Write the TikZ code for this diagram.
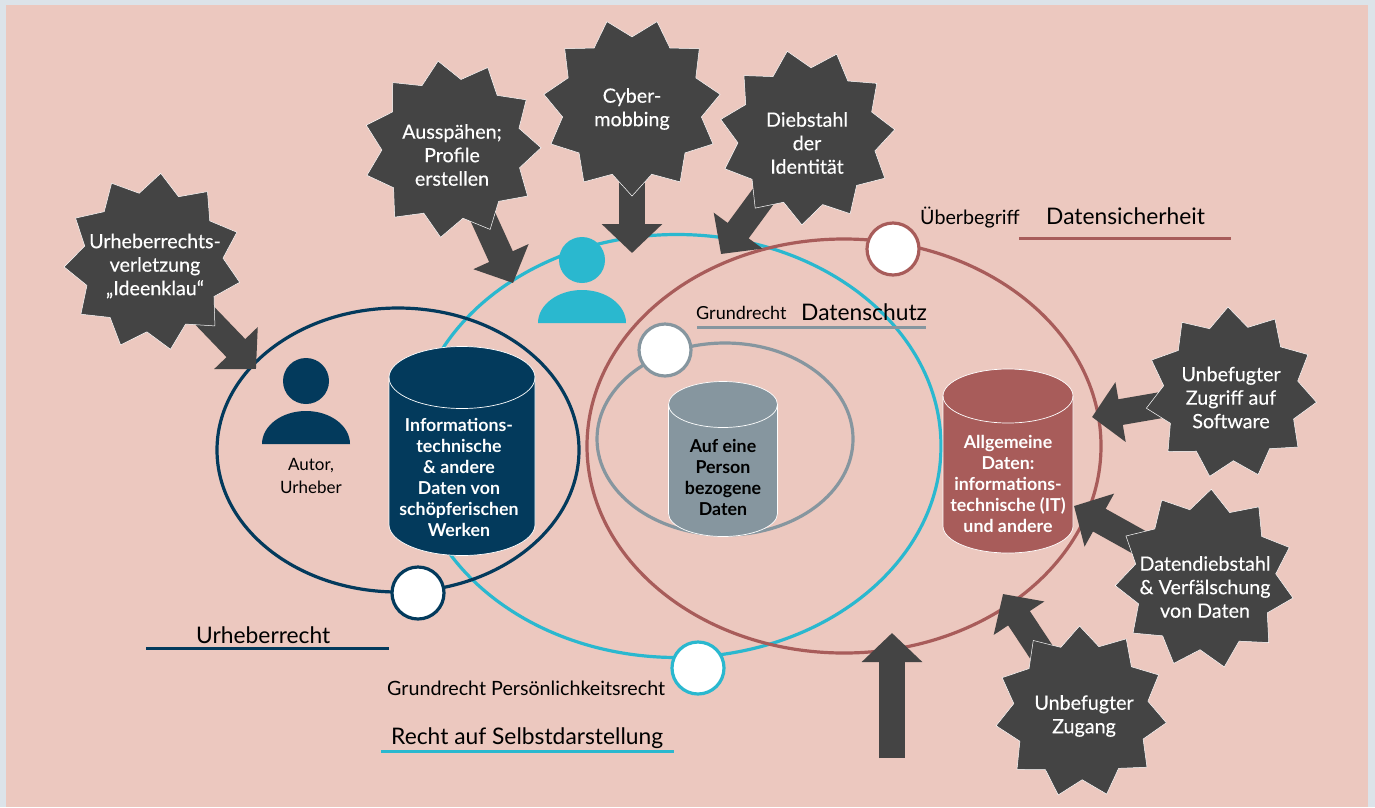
\documentclass[tikz,border=0pt]{standalone}
\usepackage{fontspec}
\setmainfont{Lato}
\newfontfamily\mediumfont{Lato}[FakeBold=0.3]
\usetikzlibrary{shapes.geometric, positioning, arrows.meta}
\definecolor{grund}{HTML}{ECC8BF}
\definecolor{rand}{HTML}{DCE3E9}
\definecolor{navy}{HTML}{033A5C}
\definecolor{tuerkis}{HTML}{2AB8CF}
\definecolor{rot}{HTML}{A85C5A}
\definecolor{grau}{HTML}{86969F}
\definecolor{dunkel}{HTML}{444444}
\pgfdeclarelayer{hinten}
\pgfdeclarelayer{pfeile}
\pgfsetlayers{hinten,pfeile,main}
\tikzset{
x=1pt, y=-1pt, % reference pixels as coordinates
burst/.style={star, star points=11, star point ratio=1.27, minimum size=178pt, inner sep=0pt, fill=dunkel, draw=white, line width=.5pt}, % the dark stars
bursttext/.style={text=white, align=center, font=\mediumfont\fontsize{19.7}{23.5}\selectfont},
fatarrow/.style={draw=dunkel, line width=26pt, -{Triangle[length=29pt, width=59pt]}}, % the thick arrows
ring/.style={ellipse, draw=#1, line width=3.2pt, inner sep=0pt},
knob/.style={circle, draw=#1, line width=3.2pt, fill=white, minimum size=52pt, inner sep=0pt},
tanktext/.style={text=white, align=center, font=\fontsize{17.8}{21}\selectfont\bfseries},
small/.style={font=\fontsize{18}{21}\selectfont, text=black, anchor=base west, inner sep=0pt},
middle/.style={font=\fontsize{19.7}{21}\selectfont, text=black, anchor=base west, inner sep=0pt},
big/.style={font=\fontsize{22.8}{24}\selectfont, text=black, anchor=base west, inner sep=0pt},
person/.pic={
    \fill (0,-63) circle[radius=23pt];
    \fill (-44,0) arc[start angle=180, end angle=0, x radius=44pt, y radius=33pt] -- cycle;
},
pics/tank/.style n args={4}{code={ % half width, half height, curve radius, colour
    \filldraw[fill=#4, draw=white, line width=.7pt] (-#1,-#2+#3) arc[start angle=180, end angle=0, x radius=#1 pt, y radius=#3 pt]
        -- (#1,#2-#3) arc[start angle=0, end angle=-180, x radius=#1 pt, y radius=#3 pt] -- cycle;
    \draw[white, line width=.7pt] (-#1,-#2+#3) arc[start angle=180, end angle=360, x radius=#1 pt, y radius=#3 pt];
}},
}
\begin{document}
\begin{tikzpicture}
    \useasboundingbox (0,0) rectangle (1375,807);
    \begin{pgfonlayer}{hinten}
        \fill[rand] (0,0) rectangle (1375,807);
        \fill[grund] (6,5) rectangle (1368,807);
        \node[ring=tuerkis, minimum width=528pt, minimum height=423pt] (selbst) at (677,446) {};
        \node[ring=navy, minimum width=362pt, minimum height=284pt] (urheber) at (398,450) {};
        \node[ring=rot, minimum width=514pt, minimum height=414pt] (sicher) at (844,446) {};
        \node[ring=grau, minimum width=256pt, minimum height=192pt] (schutz) at (725,439) {};
    \end{pgfonlayer}

    % stars
    \node[burst, shape border rotate=-5, label={[bursttext, xshift=2pt, yshift=-4pt]center:Urheberrechts-\\verletzung\\„Ideenklau“}] (klau) at (153,262) {};
    \node[burst, shape border rotate=9, label={[bursttext, yshift=-6pt]center:Ausspähen;\\Profile\\erstellen}] (spaehen) at (452,149) {};
    \node[burst, shape border rotate=180, label={[bursttext, yshift=-2pt]center:Cyber-\\mobbing}] (mobbing) at (632,107) {};
    \node[burst, shape border rotate=13, minimum size=176pt, label={[bursttext, yshift=-6pt]center:Diebstahl\\der\\Identität}] (diebstahl) at (807,137) {};
    \node[burst, shape border rotate=2, minimum size=172pt, label={[bursttext, yshift=-4.5pt]center:Unbefugter\\Zugriff auf\\Software}] (zugriff) at (1231,393) {};
    \node[burst, shape border rotate=-4, minimum size=180pt, label={[bursttext, yshift=-8pt]center:Datendiebstahl\\\& Verfälschung\\von Daten}] (verfaelschung) at (1205,579) {};
    \node[burst, shape border rotate=1, minimum size=172pt, label={[bursttext, xshift=3pt, yshift=-4pt]center:Unbefugter\\Zugang}] (zugang) at (1081,712) {};

    % arrow ends
    \coordinate (klauend) at (256,369);
    \coordinate (spaehenend) at (513,283);
    \coordinate (mobbingend) at (632,253);
    \coordinate (diebstahlend) at (721,254);
    \coordinate (zugriffend) at (1092,417);
    \coordinate (verfaelschungend) at (1074,506);
    \coordinate (zugangend) at (1003,594);
    \coordinate (unten) at (892,758);
    \coordinate (untenend) at (892,633);
    \begin{pgfonlayer}{pfeile}
        \draw
            (klau.center) edge[fatarrow] (klauend)
            (spaehen.center) edge[fatarrow] (spaehenend)
            (mobbing.center) edge[fatarrow] (mobbingend)
            (diebstahl.center) edge[fatarrow] (diebstahlend)
            (zugriff.center) edge[fatarrow] (zugriffend)
            (verfaelschung.center) edge[fatarrow] (verfaelschungend)
            (zugang.center) edge[fatarrow] (zugangend)
            (unten) edge[fatarrow] (untenend)
            ;
    \end{pgfonlayer}

    % data
    \pic (werke) at (462,451) {tank={73}{104.5}{31}{navy}};
    \pic (personal) at (723,459) {tank={54.5}{77.5}{23}{grau}};
    \pic (allgemein) at (1008,461) {tank={65}{92}{27}{rot}};
    \node[tanktext] (werketext) at (459,477) {Informations-\\technische\\\& andere\\Daten von\\schöpferischen\\Werken};
    \node[tanktext, text=black] (personaltext) at (723,477) {Auf eine\\Person\\bezogene\\Daten};
    \node[tanktext] (allgemeintext) at (1008,484) {Allgemeine\\Daten:\\informations-\\technische (IT)\\und andere};

    % persons
    \pic[navy] (autor) at (306,444) {person};
    \pic[tuerkis] (betroffen) at (582,323) {person};
    \node[font=\fontsize{17}{23}\selectfont, align=center, text=black] (autortext) at (311,476) {Autor,\\Urheber};

    % knobs
    \node[knob=rot] (knobsicher) at (893,249) {};
    \node[knob=grau] (knobschutz) at (665,350) {};
    \node[knob=navy] (knoburheber) at (418,593) {};
    \node[knob=tuerkis] (knobselbst) at (698,668) {};

    % headings
    \node[middle] (ueber) at (920,224) {Überbegriff};
    \node[big] (datensicher) at (1046,224) {Datensicherheit};
    \node[small] (grundrecht) at (696,319) {Grundrecht};
    \node[big] (datenschutz) at (801,320) {Datenschutz};
    \node[big] (urheberrecht) at (196,643) {Urheberrecht};
    \node[middle] (persoenlich) at (387,695) {Grundrecht Persönlichkeitsrecht};
    \node[big] (selbstdar) at (391,744) {Recht auf Selbstdarstellung};
    \coordinate (a1) at (1019,238);
    \coordinate (a2) at (1231,238);
    \coordinate (b1) at (697,327);
    \coordinate (b2) at (926,327);
    \coordinate (c1) at (146,648);
    \coordinate (c2) at (389,648);
    \coordinate (d1) at (381,751);
    \coordinate (d2) at (674,751);
    \draw[rot, line width=3pt] (a1) -- (a2);
    \draw[grau, line width=3pt] (b1) -- (b2);
    \draw[navy, line width=3pt] (c1) -- (c2);
    \draw[tuerkis, line width=3pt] (d1) -- (d2);
\end{tikzpicture}
\end{document}
